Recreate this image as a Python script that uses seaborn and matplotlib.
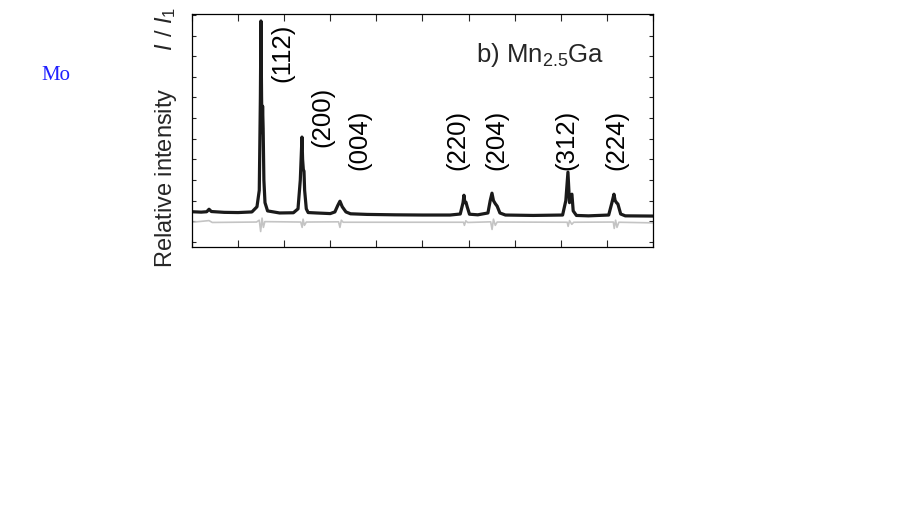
import numpy as np
import pandas as pd
import seaborn as sns
from matplotlib import pyplot as plt

two_theta = [35.0, 36.0, 36.6, 36.85, 37.1, 38.5, 40.0, 41.5, 42.05, 42.3, 42.42, 42.48,
             42.55, 42.6, 42.66, 42.72, 42.8, 42.92, 43.2, 44.5, 46.0, 46.5, 46.75, 46.93,
             47.0, 47.08, 47.15, 47.22, 47.4, 47.6, 48.5, 50.0, 50.5, 50.8, 51.05, 51.3,
             51.7, 52.2, 54.0, 57.0, 60.0, 63.0, 64.1, 64.4, 64.5, 64.6, 64.72, 64.85,
             65.1, 66.0, 67.1, 67.35, 67.54, 67.7, 67.9, 68.1, 68.4, 69.0, 72.0, 75.2,
             75.55, 75.78, 75.95, 76.1, 76.21, 76.35, 76.7, 78.0, 80.2, 80.55, 80.77, 80.9,
             81.05, 81.2, 81.5, 82.0, 85.0]
obs = [0.046, 0.044, 0.046, 0.058, 0.047, 0.043, 0.042, 0.045, 0.07, 0.15, 0.6, 0.971,
       0.6, 0.43, 0.558, 0.45, 0.2, 0.09, 0.05, 0.04, 0.041, 0.06, 0.2, 0.408,
       0.3, 0.25, 0.243, 0.15, 0.06, 0.042, 0.040, 0.037, 0.045, 0.075, 0.097, 0.07,
       0.045, 0.036, 0.033, 0.031, 0.030, 0.030, 0.035, 0.09, 0.126, 0.09, 0.092, 0.07,
       0.034, 0.031, 0.04, 0.10, 0.136, 0.10, 0.085, 0.073, 0.04, 0.030, 0.028, 0.030,
       0.10, 0.238, 0.09, 0.125, 0.131, 0.05, 0.028, 0.026, 0.03, 0.09, 0.131, 0.10,
       0.09, 0.083, 0.035, 0.026, 0.025]

# difference curve (grey)
diff_theta = [35.0, 36.85, 37.2, 42.0, 42.3, 42.45, 42.6, 42.75, 42.9, 46.8, 46.95, 47.05,
              47.2, 47.4, 50.9, 51.05, 51.2, 51.4, 64.45, 64.55, 64.7, 64.9, 67.4, 67.55,
              67.7, 67.9, 68.1, 75.7, 75.8, 75.95, 76.2, 76.4, 80.7, 80.8, 80.95, 81.1,
              81.3, 85.0]
diff = [-0.005, 0.003, -0.006, -0.004, 0.005, -0.05, 0.015, -0.03, -0.002, -0.004, -0.03, 0.01,
        -0.02, -0.004, -0.003, -0.03, 0.005, -0.005, -0.005, -0.02, 0.002, -0.006, -0.003, -0.04,
        0.01, -0.02, -0.004, -0.005, -0.025, 0.003, -0.015, -0.005, -0.004, -0.035, 0.005, -0.03,
        -0.005, -0.008]

peak_labels = ['(112)', '(200)', '(004)', '(220)', '(204)', '(312)', '(224)']
label_x = [44.8, 49.1, 53.2, 63.8, 68.0, 75.6, 81.0]
label_y = [0.82, 0.51, 0.40, 0.40, 0.40, 0.40, 0.40]

sns.set_theme(style="ticks")
plt.rcParams['font.family'] = ['Liberation Sans', 'DejaVu Sans']
plt.rcParams['mathtext.fontset'] = 'custom'
plt.rcParams['mathtext.rm'] = 'Liberation Sans'
plt.rcParams['mathtext.it'] = 'Liberation Sans:italic'

fig = plt.figure(figsize=(9, 5.06), dpi=100)
ax = fig.add_axes([0.2133, 0.5099, 0.5122, 0.4605])

df_obs = pd.DataFrame({'two_theta': two_theta, 'intensity': obs})
df_diff = pd.DataFrame({'two_theta': diff_theta, 'intensity': diff})
sns.lineplot(data=df_diff, x='two_theta', y='intensity', sort=False, estimator=None,
             color='#c4c4c4', lw=1.2, ax=ax)
sns.lineplot(data=df_obs, x='two_theta', y='intensity', sort=False, estimator=None,
             color='#1a1a1a', lw=2.3, ax=ax)

ax.set_xlim(35, 85)
ax.set_ylim(-0.125, 1.005)
ax.set_xticks(np.arange(35, 86, 5))
ax.set_yticks(np.arange(-0.1, 1.01, 0.1))
ax.tick_params(axis='x', direction='in', length=5, width=0.8, top=True, bottom=True,
               labelbottom=False)
ax.tick_params(axis='y', direction='in', length=3, width=0.8, left=True, right=True,
               labelleft=False)
ax.set_xlabel('')
ax.set_ylabel('')
for sp in ax.spines.values():
    sp.set_color('black')
    sp.set_linewidth(0.9)

for lab, x, y in zip(peak_labels, label_x, label_y):
    ax.text(x, y, lab, rotation=90, ha='center', va='center', fontsize=18.5, color='black')

fig.text(476 / 900, 1 - 62 / 506, r'b) Mn$_{2.5}$Ga', fontsize=18.5, ha='left', va='baseline')

fig.text(166 / 900, 1 - 268 / 506, 'Relative intensity      $I$ / $I_1$', rotation=90,
         fontsize=17, ha='center', va='bottom')

fig.text(56 / 900, 1 - 75 / 506, 'Mo', fontsize=15, color='#2020ff', ha='center', va='center',
         family='Liberation Serif')

fig.savefig('out.png', dpi=100)
